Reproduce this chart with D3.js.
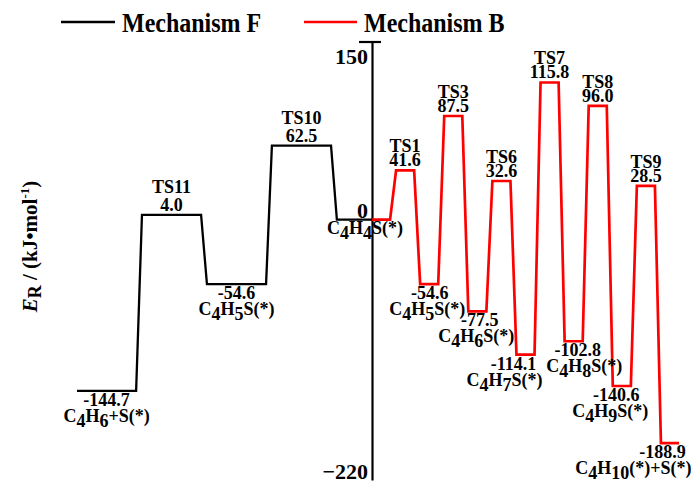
<!DOCTYPE html>
<html>
<head>
<meta charset="utf-8">
<script src="https://cdn.jsdelivr.net/npm/d3@7"></script>
<style>
  html, body { margin: 0; padding: 0; background: #fff; }
  svg { display: block; }
  text { font-family: "Liberation Serif", "Times New Roman", serif; font-weight: bold; fill: #000; }
</style>
</head>
<body>
<script>
// ---------------- data ----------------
const statesF  = ["C4H6+S(*)", "TS11", "C4H5S(*)", "TS10", "C4H4S(*)"];
const energyF  = [-144.7, 4.0, -54.6, 62.5, 0];
const statesB  = ["C4H4S(*)", "TS1", "C4H5S(*)", "TS3", "C4H6S(*)", "TS6", "C4H7S(*)",
                  "TS7", "C4H8S(*)", "TS8", "C4H9S(*)", "TS9", "C4H10(*)+S(*)"];
const energyB  = [0, 41.6, -54.6, 87.5, -77.5, 32.6, -114.1, 115.8, -102.8, 96.0, -140.6, 28.5, -188.9];
const yTicks   = [150, 0, -220];
const legendLabels = ["Mechanism F", "Mechanism B"];
const legendColors = ["#000000", "#ff0000"];

// label nudges (px) for crowded labels of mechanism B: [value, formula]
const nudgeB = {2: [0.5, -2], 4: [2.5, -1], 6: [-12, -21], 8: [4, 10.5], 10: [-5.5, -11.5], 12: [-7.5, -36.5]};

// ---------------- layout ----------------
const W = 694, H = 483;
const axisX = 372;
const svg = d3.select("body").append("svg").attr("width", W).attr("height", H);

const y = d3.scaleLinear().domain([-220, 150]).range([480, 42]);

const xF = d3.scaleBand().domain(d3.range(statesF.length)).range([77, 396]).paddingInner(0.09);
const xB = d3.scaleBand().domain(d3.range(statesB.length)).range([372, 679]).paddingInner(0.25);

function levels(states, energies, xs) {
  return states.map((s, i) => {
    const x0 = xs(i);
    const x1 = x0 + xs.bandwidth();
    return { i, name: s, e: energies[i], x0, x1 };
  });
}
const levF = levels(statesF, energyF, xF);
levF[levF.length - 1].x1 = axisX;   // last F level ends at the axis
const levB = levels(statesB, energyB, xB);

function pathPoints(lev) {
  const pts = [];
  lev.forEach(d => { pts.push([d.x0, y(d.e)]); pts.push([d.x1, y(d.e)]); });
  return pts;
}
const line = d3.line();

// axis
const axis = d3.axisLeft(y).tickValues(yTicks).tickSize(0).tickSizeOuter(0).tickPadding(4);
const gAxis = svg.append("g").attr("transform", `translate(${axisX},0)`).call(axis);
gAxis.attr("font-family", null).attr("font-size", null);
gAxis.select(".domain").attr("stroke", "#000").attr("stroke-width", 2.2);
gAxis.selectAll(".tick text")
  .style("font-size", "22px")
  .attr("x", -4).attr("dy", null)
  .attr("y", d => Math.max(y(d) - 2, y(150) + 21) - y(d));
svg.append("line").attr("x1", axisX - 13).attr("x2", axisX + 9)
  .attr("y1", y(150)).attr("y2", y(150)).attr("stroke", "#000").attr("stroke-width", 2.2);

// energy profiles
svg.append("path").attr("d", line(pathPoints(levF)))
  .attr("fill", "none").attr("stroke", legendColors[0]).attr("stroke-width", 2.3);
svg.append("path").attr("d", line(pathPoints(levB)))
  .attr("fill", "none").attr("stroke", legendColors[1]).attr("stroke-width", 2.7);

// formula with subscripts (digits lowered)
function formula(sel, str) {
  const parts = str.split(/(\d+)/).filter(p => p.length);
  let shift = 0;
  parts.forEach(p => {
    const sub = /^\d+$/.test(p);
    const target = sub ? 5 : 0;
    sel.append("tspan").attr("dy", target - shift).text(p);
    shift = target;
  });
}

const FS = "18px";
function drawLabels(lev, nameGap, nudges) {
  lev.forEach(d => {
    const cx = (d.x0 + d.x1) / 2;
    const ly = y(d.e);
    const isTS = d.name.startsWith("TS");
    if (d.e === 0 && !isTS) return;
    if (isTS) {
      svg.append("text").attr("x", cx).attr("y", ly - nameGap).attr("text-anchor", "middle")
        .style("font-size", FS).text(d.name);
      svg.append("text").attr("x", cx).attr("y", ly - 4).attr("text-anchor", "middle")
        .style("font-size", FS).text(d.e.toFixed(1));
    } else {
      const nv = (nudges && nudges[d.i]) || [0, 0];
      svg.append("text").attr("x", cx + nv[0]).attr("y", ly + 15).attr("text-anchor", "middle")
        .style("font-size", FS).text(d.e.toFixed(1));
      const t = svg.append("text").attr("x", cx + nv[1]).attr("y", ly + 31).attr("text-anchor", "middle")
        .style("font-size", FS);
      formula(t, d.name);
    }
  });
}
drawLabels(levF, 22, null);
drawLabels(levB, 18, nudgeB);

// shared zero-state label at the axis
const z = svg.append("text").attr("x", axisX - 7).attr("y", y(0) + 14).attr("text-anchor", "middle")
  .style("font-size", FS);
formula(z, statesB[0]);

// y-axis title
const title = svg.append("text")
  .attr("transform", `translate(37,246.5) rotate(-90)`)
  .attr("text-anchor", "middle").style("font-size", "21px");
title.append("tspan").attr("font-style", "italic").text("E");
title.append("tspan").style("font-size", "18px").attr("dy", 4).text("R");
title.append("tspan").attr("dy", -4).text(" / (kJ\u2022mol");
title.append("tspan").style("font-size", "13px").attr("dy", -8).text("-1");
title.append("tspan").attr("dy", 8).text(")");

// legend
const legX = [[61, 115, 122], [304, 357, 364]];
legendLabels.forEach((lab, i) => {
  svg.append("line").attr("x1", legX[i][0]).attr("x2", legX[i][1]).attr("y1", 22).attr("y2", 22)
    .attr("stroke", legendColors[i]).attr("stroke-width", 2.6);
  svg.append("text").attr("transform", `translate(${legX[i][2]},32) scale(1,1.14)`)
    .style("font-size", "24px").text(lab);
});
</script>
</body>
</html>
